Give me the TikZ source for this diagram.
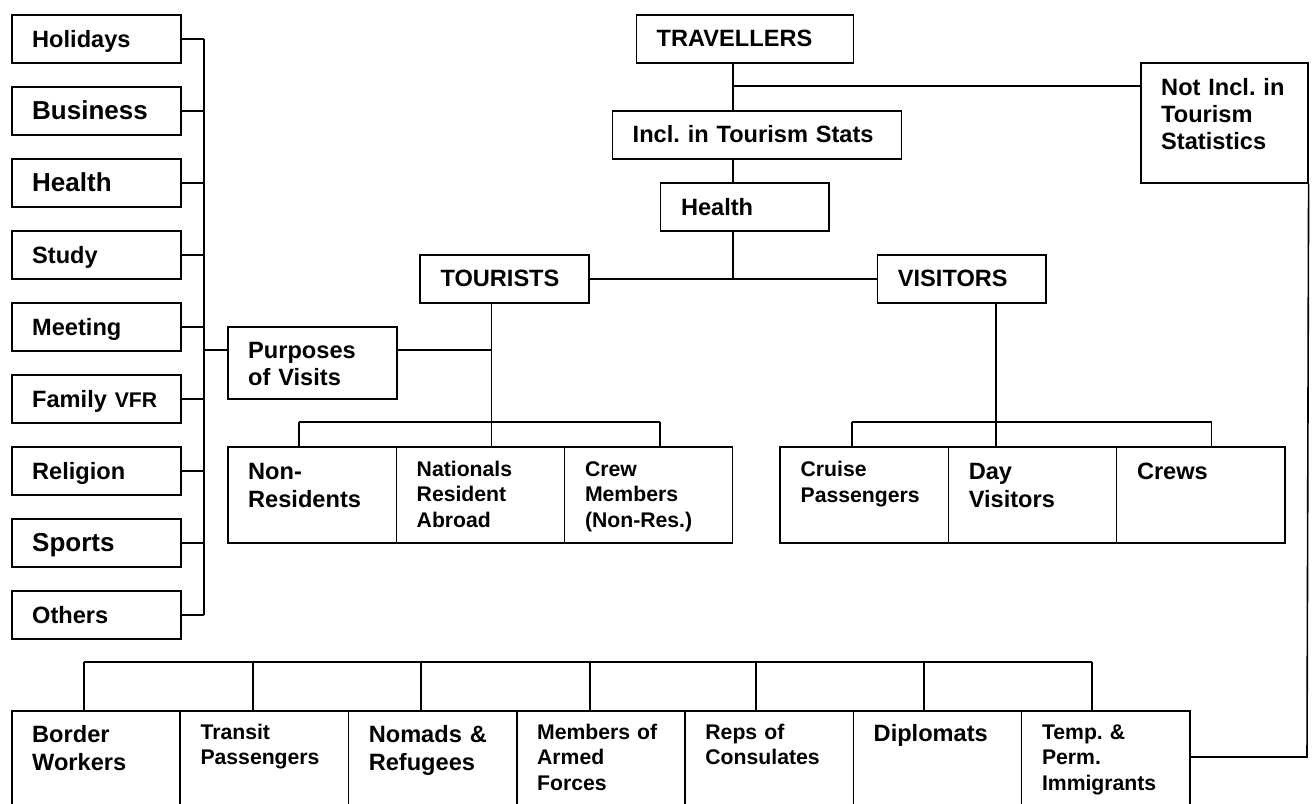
\documentclass[tikz,border=0pt]{standalone}
\usepackage{fontspec}
\setmainfont{Liberation Sans}
\usetikzlibrary{calc}
\frenchspacing

% font sizes used in the chart
\newcommand\szL{\fontsize{26}{28}\selectfont\bfseries}
\newcommand\szM{\fontsize{23.6}{28}\selectfont\bfseries}
\newcommand\szMt{\fontsize{23.6}{27}\selectfont\bfseries}
\newcommand\szS{\fontsize{21.2}{25.5}\selectfont\bfseries}

\tikzset{
  box/.style={draw, line width=1.6pt, rectangle, inner sep=0pt, anchor=north west},
  lbl/.style={anchor=base west, inner sep=0pt, align=left, text width=300pt},
  wire/.style={line width=1.6pt},
}

% \chartbox{name}{x}{y}{width}{height}{baseline offset}{font}{text}
\newcommand\chartbox[8]{%
  \node[box, minimum width=#4pt, minimum height=#5pt] (#1) at (#2,#3) {};
  \node[lbl, font=#7] (#1-t) at ($(#1.north west)+(21,#6)$) {#8};}

\begin{document}
\begin{tikzpicture}[x=1pt, y=-1pt]
\useasboundingbox (0,0) rectangle (1314,803);
\clip (0,0) rectangle (1314,803);
\fill[white] (0,0) rectangle (1314,803);

% purposes column
\chartbox{hol}{11}{14}{169}{48}{33.5}{\szM}{Holidays}
\chartbox{biz}{11}{86}{169}{48}{33.5}{\szL}{Business}
\chartbox{hlt}{11}{158}{169}{48}{33.5}{\szL}{Health}
\chartbox{stu}{11}{230}{169}{48}{33.5}{\szM}{Study}
\chartbox{mee}{11}{302}{169}{48}{33.5}{\szM}{Meeting}
\chartbox{fam}{11}{374}{169}{48}{33.5}{\szM}{Family {\szS VFR}}
\chartbox{rel}{11}{446}{169}{48}{33.5}{\szM}{Religion}
\chartbox{spo}{11}{518}{169}{48}{33.5}{\szL}{Sports}
\chartbox{oth}{11}{590}{169}{48}{33.5}{\szM}{Others}

\chartbox{pur}{227}{326}{169}{72}{32}{\szMt}{Purposes\\of Visits}

% main trunk
\chartbox{trav}{635.5}{14}{217}{48}{32.7}{\szM}{TRAVELLERS}
\chartbox{incl}{611.5}{110}{289}{48}{32.7}{\szM}{Incl. in Tourism Stats}
\chartbox{hc}{659.8}{182}{168.2}{48}{33}{\szM}{Health}
\chartbox{tour}{419.3}{254}{168.7}{48}{32.7}{\szM}{TOURISTS}
\chartbox{vis}{876.7}{254}{168.2}{48}{32.7}{\szM}{VISITORS}
\chartbox{notin}{1140}{62}{167}{120}{33}{\szMt}{Not Incl. in\\Tourism\\Statistics}

% tourists' categories
\chartbox{nr}{227}{446}{168.5}{96}{33}{\szM}{Non-\\Residents}
\chartbox{nat}{395.5}{446}{168.3}{96}{30}{\szS}{Nationals\\Resident\\Abroad}
\chartbox{crew}{563.8}{446}{168}{96}{30}{\szS}{Crew\\Members\\(Non-Res.)}

% visitors' categories
\chartbox{cru}{779.4}{446}{168.2}{96}{30.7}{\szS}{Cruise\\Passengers}
\chartbox{day}{947.6}{446}{168.2}{96}{33}{\szM}{Day\\Visitors}
\chartbox{crews}{1115.8}{446}{168.2}{96}{33}{\szM}{Crews}

% travellers outside tourism statistics
\chartbox{bw}{11}{710}{168.3}{110}{32}{\szM}{Border\\Workers}
\chartbox{tp}{179.3}{710}{168.3}{110}{29.3}{\szS}{Transit\\Passengers}
\chartbox{nom}{347.6}{710}{168.3}{110}{32}{\szM}{Nomads \&\\Refugees}
\chartbox{arm}{515.9}{710}{168.3}{110}{29}{\szS}{Members of\\Armed\\Forces}
\chartbox{rep}{684.2}{710}{168.3}{110}{29}{\szS}{Reps of\\Consulates}
\chartbox{dip}{852.5}{710}{168.3}{110}{31.7}{\szM}{Diplomats}
\chartbox{imm}{1020.8}{710}{168.3}{110}{29}{\szS}{Temp. \&\\Perm.\\Immigrants}

% connectors: purposes bus
\coordinate (busx) at (204,0);
\foreach \n in {hol,biz,hlt,stu,mee,fam,rel,spo,oth}
  \draw[wire] (\n.east) -- (\n.east -| busx);
\draw[wire] (hol.east -| busx) -- (oth.east -| busx);
\coordinate (pj) at (204,350);
\draw[wire] (pj) -- (pj -| pur.west);

% connectors: trunk
\coordinate (spine) at (733,0);
\coordinate (j1) at (733,86);
\draw[wire] (trav.south -| spine) -- (incl.north -| spine);
\draw[wire] (j1) -- (j1 -| notin.west);
\draw[wire] (incl.south -| spine) -- (hc.north -| spine);
\draw[wire] (hc.south -| spine) -- (spine |- tour.east);
\draw[wire] (tour.east) -- (vis.west);

% connectors: tourists
\coordinate (tx) at (491.5,0);
\coordinate (tj) at (491.5,422);
\draw[wire] (tour.south -| tx) -- (tj);
\draw[wire] (pj -| pur.east) -- (pj -| tx);
\coordinate (td1) at (299,422);
\coordinate (td3) at (660,422);
\draw[wire] (td1) -- (td3);
\draw[wire] (td1) -- (td1 |- nr.north);
\draw[wire] (tj) -- (tj |- nat.north);
\draw[wire] (td3) -- (td3 |- crew.north);

% connectors: visitors
\coordinate (vj) at (996,422);
\coordinate (vd1) at (852,422);
\coordinate (vd3) at (1211.6,422);
\draw[wire] (vis.south -| vj) -- (vj);
\draw[wire] (vd1) -- (vd3);
\draw[wire] (vd1) -- (vd1 |- cru.north);
\draw[wire] (vj) -- (vj |- day.north);
\draw[wire] (vd3) -- (vd3 |- crews.north);

% connectors: outside tourism statistics
\coordinate (nc) at (1307,757);
\draw[wire] (notin.south east) -- (nc) -- (nc -| imm.east);
\coordinate (b1) at (84,662);
\coordinate (b2) at (253,662);
\coordinate (b3) at (421,662);
\coordinate (b4) at (590,662);
\coordinate (b5) at (756,662);
\coordinate (b6) at (924,662);
\coordinate (b7) at (1092,662);
\draw[wire] (b1) -- (b7);
\draw[wire] (b1) -- (b1 |- bw.north);
\draw[wire] (b2) -- (b2 |- tp.north);
\draw[wire] (b3) -- (b3 |- nom.north);
\draw[wire] (b4) -- (b4 |- arm.north);
\draw[wire] (b5) -- (b5 |- rep.north);
\draw[wire] (b6) -- (b6 |- dip.north);
\draw[wire] (b7) -- (b7 |- imm.north);
\end{tikzpicture}
\end{document}
